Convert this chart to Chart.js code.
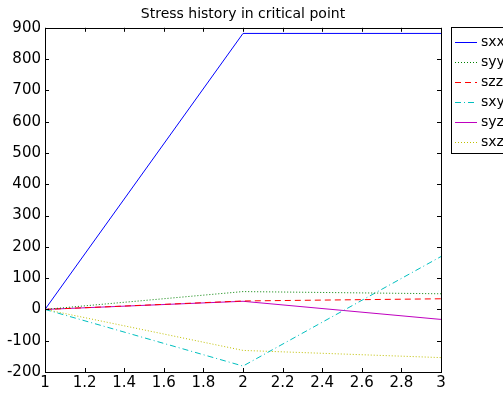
<!DOCTYPE html>
<html>
<head>
<meta charset="utf-8">
<script src="https://cdn.jsdelivr.net/npm/chart.js@4"></script>
<style>
  body { margin: 0; background: #fff; }
  #wrap { width: 503px; height: 393px; }
</style>
</head>
<body>
<div id="wrap"><canvas id="myChart" width="503" height="393"></canvas></div>
<script>
const steps = [1, 2, 3];
const seriesNames = ['sxx', 'syy', 'szz', 'sxy', 'syz', 'sxz'];
const sxx = [0, 882, 882];
const syy = [0, 57, 50];
const szz = [0, 27, 34];
const sxy = [0, -181, 169];
const syz = [0, 26, -32];
const sxz = [0, -131, -154];
const yTicks = [-200, -100, 0, 100, 200, 300, 400, 500, 600, 700, 800, 900];
const xTicks = [1, 1.2, 1.4, 1.6, 1.8, 2, 2.2, 2.4, 2.6, 2.8, 3];

const colors = ['#0000ff', '#008000', '#ff0000', '#00bfbf', '#bf00bf', '#bfbf00'];
const dashes = [[], [1, 2], [6, 4], [6, 3, 1, 3], [], [1, 2]];
const allSeries = [sxx, syy, szz, sxy, syz, sxz];

const FONT = 'DejaVu Sans';

// inward ticks, frame and legend box
const framePlugin = {
    id: 'frame',
    afterDraw(chart) {
        const ctx = chart.ctx;
        const a = chart.chartArea;
        const xs = chart.scales.x, ys = chart.scales.y;
        ctx.save();
        ctx.strokeStyle = '#000';
        ctx.lineWidth = 1;
        ctx.setLineDash([]);
        ctx.beginPath();
        xTicks.forEach(v => {
            const px = Math.round(xs.getPixelForValue(v)) + 0.5;
            ctx.moveTo(px, a.bottom); ctx.lineTo(px, a.bottom - 4);
            ctx.moveTo(px, a.top); ctx.lineTo(px, a.top + 4);
        });
        yTicks.forEach(v => {
            const py = Math.round(ys.getPixelForValue(v)) + 0.5;
            ctx.moveTo(a.left, py); ctx.lineTo(a.left + 4, py);
            ctx.moveTo(a.right, py); ctx.lineTo(a.right - 4, py);
        });
        ctx.stroke();
        ctx.strokeRect(Math.round(a.left) + 0.5, Math.round(a.top) + 0.5,
            Math.round(a.right - a.left), Math.round(a.bottom - a.top));

        // legend
        const lx = 451, ly = 27;
        ctx.fillStyle = '#fff';
        ctx.fillRect(lx, ly, 80, 126);
        ctx.strokeRect(lx + 0.5, ly + 0.5, 80, 126);
        ctx.font = '14px "' + FONT + '"';
        ctx.textBaseline = 'middle';
        chart.data.datasets.forEach((ds, i) => {
            const y = ly + 15 + i * 20 + 0.5;
            ctx.strokeStyle = ds.borderColor;
            ctx.setLineDash(ds.borderDash);
            ctx.beginPath();
            ctx.moveTo(455, y); ctx.lineTo(477, y);
            ctx.stroke();
            ctx.fillStyle = '#000';
            ctx.fillText(ds.label, 481, y);
        });
        ctx.restore();
    }
};

const data = {
    datasets: seriesNames.map((name, i) => ({
        label: name,
        data: steps.map((s, j) => ({ x: s, y: allSeries[i][j] })),
        borderColor: colors[i],
        borderDash: dashes[i],
        borderWidth: 1,
        pointRadius: 0,
        fill: false,
        tension: 0
    }))
};

const config = {
    type: 'line',
    data: data,
    options: {
        responsive: false,
        animation: false,
        layout: { padding: { left: 0, right: 62, top: 0, bottom: 0 } },
        plugins: {
            legend: { display: false },
            tooltip: { enabled: false },
            title: {
                display: true,
                fullSize: false,
                text: 'Stress history in critical point',
                color: '#000',
                font: { family: FONT, size: 14, weight: 'normal' },
                padding: { top: 6, bottom: 5 }
            }
        },
        scales: {
            x: {
                type: 'linear',
                min: 1,
                max: 3,
                afterBuildTicks: s => { s.ticks = xTicks.map(v => ({ value: v })); },
                afterFit: s => { s.height = 21; },
                grid: { display: false, drawTicks: false },
                border: { display: false },
                ticks: {
                    color: '#000',
                    padding: 2,
                    maxRotation: 0,
                    autoSkip: false,
                    font: { family: FONT, size: 15 },
                    callback: v => String(Math.round(v * 10) / 10)
                }
            },
            y: {
                min: -200,
                max: 900,
                afterBuildTicks: s => { s.ticks = yTicks.map(v => ({ value: v })); },
                afterFit: s => { s.width = 45; },
                grid: { display: false, drawTicks: false },
                border: { display: false },
                ticks: {
                    color: '#000',
                    padding: 4,
                    autoSkip: false,
                    font: { family: FONT, size: 15 },
                    callback: v => String(v)
                }
            }
        }
    },
    plugins: [framePlugin]
};

var myChart = new Chart(document.getElementById('myChart'), config);
</script>
</body>
</html>
